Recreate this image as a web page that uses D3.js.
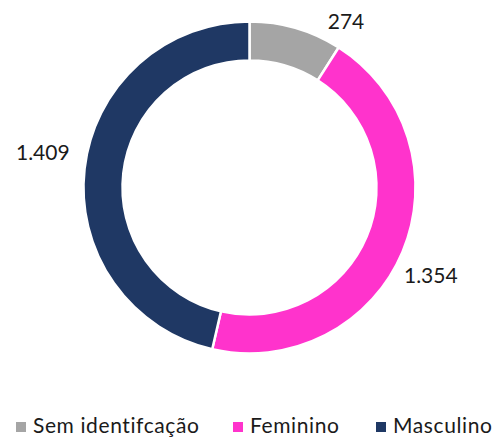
<!DOCTYPE html>
<html>
<head>
<meta charset="utf-8">
<script src="https://d3js.org/d3.v7.min.js"></script>
<style>
  body { margin: 0; background: #fff; }
  text { font-family: Lato, "Open Sans", sans-serif; fill: #1a1a1a; font-variant-ligatures: none; }
</style>
</head>
<body>
<svg id="svg"></svg>
<script>
  const categories = ["Sem identifcação", "Feminino", "Masculino"];
  const values = [274, 1354, 1409];
  const valueLabels = ["274", "1.354", "1.409"];
  const colors = ["#a5a5a5", "#ff33cc", "#1f3864"];

  const width = 498, height = 437;
  const cx = 249.5, cy = 187.5;
  const outerR = 166, innerR = 127;

  const svg = d3.select("#svg").attr("width", width).attr("height", height);

  const data = categories.map((c, i) => ({ cat: c, value: values[i], label: valueLabels[i], color: colors[i] }));

  const pie = d3.pie().value(d => d.value).sort(null);
  const arc = d3.arc().innerRadius(innerR).outerRadius(outerR);
  const labelArc = d3.arc().innerRadius(202).outerRadius(202);

  const g = svg.append("g").attr("transform", `translate(${cx},${cy})`);
  const arcs = pie(data);

  g.selectAll("path")
    .data(arcs)
    .enter()
    .append("path")
    .attr("d", arc)
    .attr("fill", d => d.data.color)
    .attr("stroke", "#fff")
    .attr("stroke-width", 2.5);

  // small hand nudges, like the original's label placement
  const nudge = { "Sem identifcação": [40, 28], "Feminino": [-5, 10], "Masculino": [-6, -12] };

  g.selectAll("text.value")
    .data(arcs)
    .enter()
    .append("text")
    .attr("class", "value")
    .attr("x", d => labelArc.centroid(d)[0] + nudge[d.data.cat][0])
    .attr("y", d => labelArc.centroid(d)[1] + nudge[d.data.cat][1])
    .attr("text-anchor", "middle")
    .attr("dy", "0.35em")
    .attr("font-size", 21)
    .text(d => d.data.label);

  // legend
  const legendX = [16, 233, 376];
  const leg = svg.selectAll("g.legend")
    .data(data)
    .enter()
    .append("g")
    .attr("class", "legend")
    .attr("transform", (d, i) => `translate(${legendX[i]}, 418)`);

  leg.append("rect")
    .attr("width", 10)
    .attr("height", 10)
    .attr("y", 4)
    .attr("fill", d => d.color);

  leg.append("text")
    .attr("x", 17)
    .attr("y", 15)
    .attr("font-size", 21)
    .attr("letter-spacing", 0.6)
    .text(d => d.cat);
</script>
</body>
</html>
